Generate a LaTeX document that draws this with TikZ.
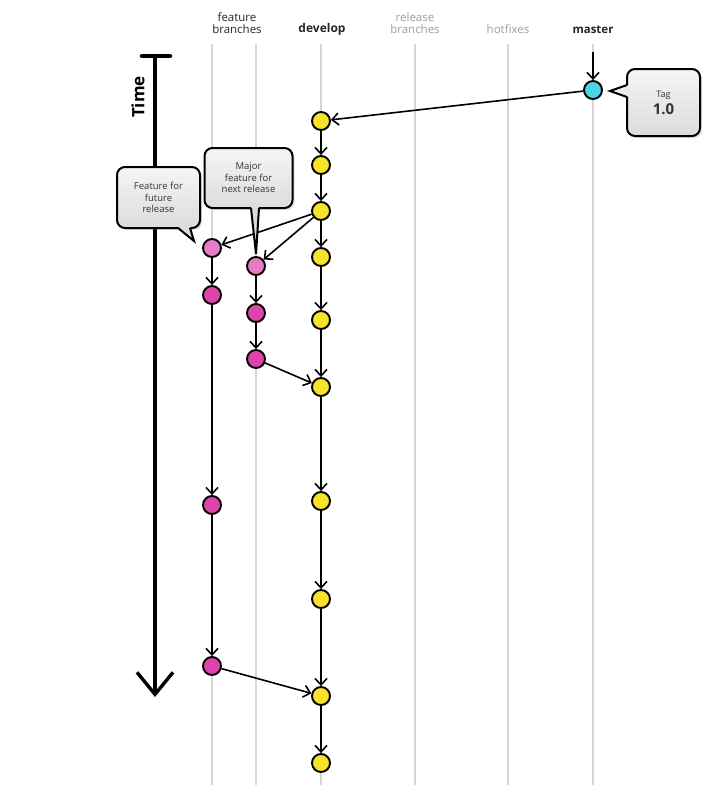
\documentclass[tikz,border=0pt]{standalone}
\usepackage{fontspec}
\setmainfont{Open Sans}
\usetikzlibrary{arrows.meta,shadows}

\definecolor{devyellow}{HTML}{F7E22C}
\definecolor{featpink}{HTML}{DE45AC}
\definecolor{featlight}{HTML}{E77CC6}
\definecolor{mastercyan}{HTML}{4ED3E8}
\definecolor{lanegray}{HTML}{D6D6D6}
\definecolor{bubbletop}{HTML}{F5F5F5}
\definecolor{bubblebot}{HTML}{DCDCDC}

\begin{document}
\begin{tikzpicture}[x=1pt,y=-1pt,
  lane/.style={draw=lanegray, line width=1.5pt},
  commit/.style={circle, draw=black, line width=1.9pt, minimum size=18pt, inner sep=0pt},
  dev/.style={commit, fill=devyellow},
  feat/.style={commit, fill=featpink},
  featnew/.style={commit, fill=featlight},
  tagc/.style={commit, fill=mastercyan},
  flow/.style={draw=black, line width=1.6pt,
    -{Straight Barb[length=6.5pt,width=12pt,line width=1.6pt]}},
  lanelabel/.style={font=\fontsize{11.5}{12.5}\selectfont, align=center, text=black!85},
  dimlabel/.style={lanelabel, text=black!38},
  bubble/.style={draw=black, line width=2pt, rounded corners=8pt,
    top color=bubbletop, bottom color=bubblebot, align=center,
    font=\fontsize{9.5}{11.5}\selectfont, text=black!80,
    drop shadow={shadow xshift=2pt, shadow yshift=-2pt, opacity=0.25}},
  pointer/.style={draw=black, line width=2pt, line join=miter}
]
\useasboundingbox (0,0) rectangle (726,804);
\fill[white] (0,0) rectangle (726,804);

% lane labels
\node[lanelabel] (lfeat) at (237,23) {feature\\branches};
\node[lanelabel, font=\bfseries\fontsize{12}{13}\selectfont] (ldev) at (322,29) {develop};
\node[dimlabel] (lrel) at (415,23) {release\\branches};
\node[dimlabel] (lhot) at (508,29) {hotfixes};
\node[lanelabel, font=\bfseries\fontsize{11.5}{12.5}\selectfont] (lmas) at (593,30) {master};

% lanes
\foreach \x in {212,256,321,415,508,593}
  \draw[lane] (\x,44) -- (\x,785);

% time axis
\coordinate (tstart) at (155,56);
\coordinate (tend) at (155,697);
\draw[line width=3.2pt, -{Straight Barb[length=22pt,width=36pt,line width=3.4pt]}] (tstart) -- (tend);
\draw[line width=4.5pt, line cap=round] (142,56) -- (170,56);
\node[rotate=90, font=\bfseries\fontsize{17}{18}\selectfont] (time) at (138,97) {Time};

% develop commits
\foreach \n/\y in {1/121,2/165,3/211,4/257,5/320,6/387,7/501,8/599,9/696,10/763}
  \node[dev] (d\n) at (321,\y) {};
\foreach \a/\b in {1/2,2/3,3/4,4/5,5/6,6/7,7/8,8/9,9/10}
  \draw[flow] (d\a) -- (d\b);

% master
\node[tagc] (m) at (593,90) {};
\coordinate (mtop) at (593,52);
\draw[flow] (mtop) -- (m);
\draw[flow] (m) -- (d1);

% feature branch for the future release
\node[featnew] (fa1) at (212,248) {};
\node[feat] (fa2) at (212,295) {};
\node[feat] (fa3) at (212,505) {};
\node[feat] (fa4) at (212,666) {};
\draw[flow] (fa1) -- (fa2);
\draw[flow] (fa2) -- (fa3);
\draw[flow] (fa3) -- (fa4);

% feature branch for the next release
\node[featnew] (fb1) at (256,266) {};
\node[feat] (fb2) at (256,313) {};
\node[feat] (fb3) at (256,359) {};
\draw[flow] (fb1) -- (fb2);
\draw[flow] (fb2) -- (fb3);

% branching and merging
\draw[flow] (d3) -- (fa1);
\draw[flow] (d3) -- (fb1);
\draw[flow] (fb3) -- (d6);
\draw[flow] (fa4) -- (d9);

% callout: feature for future release
\node[bubble, minimum width=83pt, minimum height=61pt] (futurenote) at (158.5,197.5) {Feature for\\future\\release};
\fill[bubblebot] (178,226.5) -- (190,226.5) -- (194,241) -- cycle;
\draw[pointer] (178,228) -- (194,241) -- (190,228);

% callout: major feature for next release
\node[bubble, minimum width=88pt, minimum height=60pt] (majornote) at (248.5,178) {Major\\feature for\\next release};
\fill[bubblebot] (251,206.5) -- (259,206.5) -- (256,254) -- cycle;
\draw[pointer] (251,208) -- (256,254) -- (259,208);

% callout: tag
\node[bubble, minimum width=73pt, minimum height=67pt] (tagnote) at (663.5,102.5)
  {{\fontsize{9}{10}\selectfont Tag}\\[3pt]{\bfseries\fontsize{15}{16}\selectfont 1.0}};
\fill[bubbletop!60!bubblebot] (629,85) -- (629,97) -- (610,91) -- cycle;
\draw[pointer] (627,85) -- (610,91) -- (627,97);
\end{tikzpicture}
\end{document}
